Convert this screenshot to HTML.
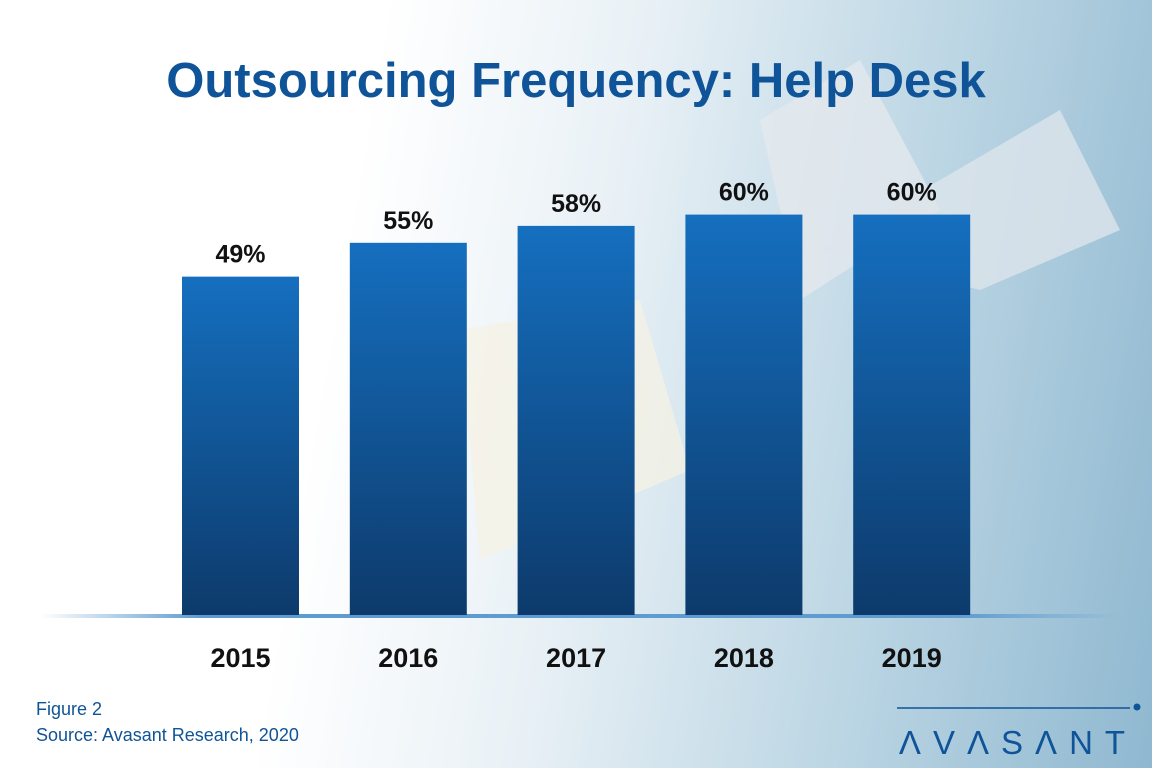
<!DOCTYPE html>
<html><head><meta charset="utf-8"><style>
html,body{margin:0;padding:0}
body{width:1152px;height:768px;overflow:hidden;position:relative;font-family:"Liberation Sans",sans-serif;
background:linear-gradient(100deg,#ffffff 0%,#ffffff 30%,#e9f1f6 50%,#bcd6e4 75%,#8fb8d0 100%);}
svg{position:absolute;left:0;top:0}
</style></head><body>
<svg width="1152" height="768">
<defs>
<linearGradient id="bg" x1="0" y1="0" x2="0" y2="1"><stop offset="0" stop-color="#156fbf"/><stop offset="1" stop-color="#0d3a6b"/></linearGradient>
<linearGradient id="base" x1="0" y1="0" x2="1" y2="0"><stop offset="0" stop-color="#5d9bd0" stop-opacity="0"/><stop offset="0.15" stop-color="#5d9bd0"/><stop offset="0.85" stop-color="#5d9bd0"/><stop offset="1" stop-color="#5d9bd0" stop-opacity="0"/></linearGradient>
</defs>
<polygon points="760,120 860,60 940,210 800,300" fill="#e4e9ee" opacity="0.8"/>
<polygon points="820,250 1060,110 1120,230 980,290" fill="#dde5eb" opacity="0.8"/>
<polygon points="460,330 640,300 690,470 480,560" fill="#f6f2e2" opacity="0.7"/>
<text x="576" y="97" text-anchor="middle" font-size="49" font-weight="bold" fill="#0f5398">Outsourcing Frequency: Help Desk</text>
<rect x="40" y="614" width="1080" height="4" fill="url(#base)"/>
<g id="bars"></g>
<text x="36" y="715" font-size="18" fill="#0f5398">Figure 2</text>
<text x="36" y="741" font-size="18" fill="#0f5398">Source: Avasant Research, 2020</text>
<line x1="897" y1="708" x2="1130" y2="708" stroke="#0f5398" stroke-width="1.5"/>
<circle cx="1137" cy="707" r="3.5" fill="#0f5398"/>
<text x="1018" y="754" text-anchor="middle" font-size="33" font-weight="300" fill="#0f5398" letter-spacing="12">ΛVΛSΛNT</text>
</svg>
<script>
const years=["2015","2016","2017","2018","2019"];
const values=[49,55,58,60,60];
const labels=["49%","55%","58%","60%","60%"];
const baseY=615;
function y(v){return baseY-(62+5.64*v);}
function x(i){return 182+i*167.8;}
const g=document.getElementById('bars');
const NS="http://www.w3.org/2000/svg";
values.forEach((v,i)=>{
 const r=document.createElementNS(NS,'rect');
 
 
 r.setAttribute('x',x(i));r.setAttribute('y',y(v));r.setAttribute('width',117);r.setAttribute('height',baseY-y(v));
 r.setAttribute('fill','url(#bg)');g.appendChild(r);
 const t=document.createElementNS(NS,'text');
 
 
 t.setAttribute('x',x(i)+58.5);t.setAttribute('y',y(v)-14);t.setAttribute('text-anchor','middle');
 t.setAttribute('font-size','25');t.setAttribute('font-weight','bold');t.setAttribute('fill','#111');
 t.textContent=labels[i];g.appendChild(t);
 const c=document.createElementNS(NS,'text');
 
 
 c.setAttribute('x',x(i)+58.5);c.setAttribute('y',667);c.setAttribute('text-anchor','middle');
 c.setAttribute('font-size','27');c.setAttribute('font-weight','bold');c.setAttribute('fill','#111');
 c.textContent=years[i];g.appendChild(c);
});
</script>
</body></html>
